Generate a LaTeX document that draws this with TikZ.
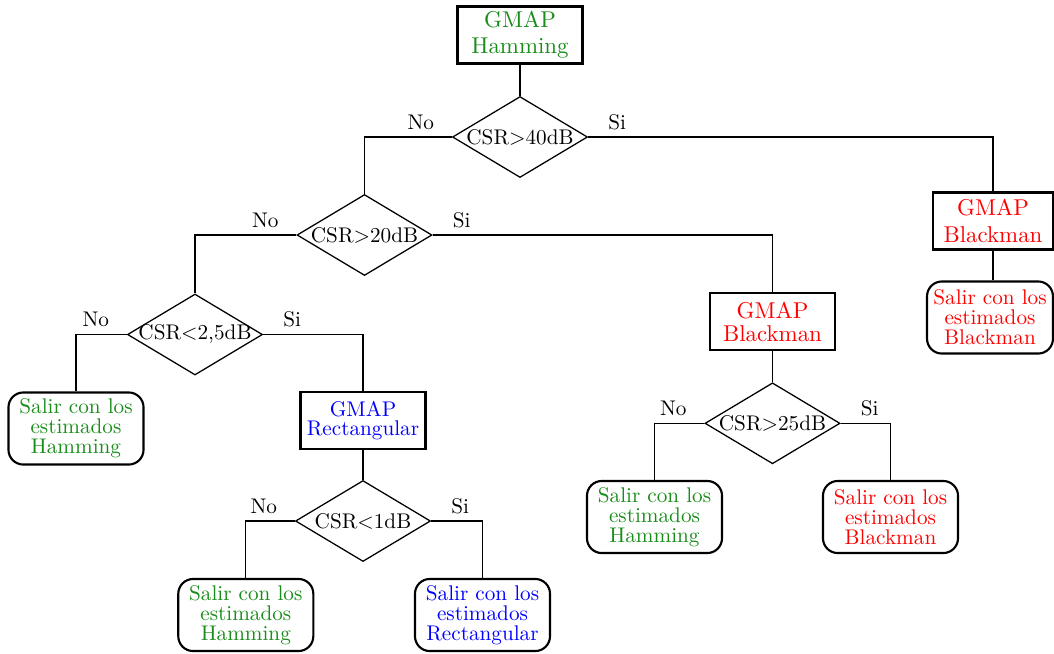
\documentclass[tikz,border=0pt]{standalone}
\usetikzlibrary{shapes.geometric}
\definecolor{hamgreen}{RGB}{25,140,25}
\tikzset{
  every node/.style={font=\fontsize{10}{12}\selectfont},
  gmapbox/.style={draw, line width=1pt, rectangle, minimum width=59pt,
    minimum height=26.9pt, inner sep=0pt, align=center,
    font=\fontsize{10.8}{9}\selectfont},
  exitbox/.style={draw, line width=1pt, rounded corners=7pt,
    minimum width=63.7pt, minimum height=34pt, inner sep=0pt, align=center,
    font=\fontsize{10}{9.4}\selectfont},
  test/.style={draw, diamond, line width=0.6pt, minimum width=63.7pt,
    minimum height=38.2pt, inner sep=0pt},
  link/.style={line width=0.5pt},
  answer/.style={inner sep=0pt}
}
\newcommand{\cond}[1]{\makebox[0pt]{#1}}
\begin{document}
\begin{tikzpicture}[x=0.4717pt,y=-0.4717pt]
\useasboundingbox (0,0) rectangle (1054,653);

% processing blocks
\node[gmapbox, text=hamgreen] (h0) at (520,35)   {GMAP\\[3.4pt]Hamming};
\node[gmapbox, text=red, minimum width=57pt] (b1) at (993,221) {GMAP\\[3.9pt]Blackman};
\node[gmapbox, text=red]      (b2) at (772.5,321.5) {GMAP\\[1.8pt]Blackman};
\node[gmapbox, text=blue, font=\fontsize{10}{9}\selectfont] (b3) at (363,420.3) {GMAP\\Rectangular};

% decisions
\node[test] (d1) at (520,137) {\cond{CSR$>$40dB}};
\node[test] (d2) at (364.5,235) {\cond{CSR$>$20dB}};
\node[test] (d3) at (195,334.5) {\cond{CSR$<$2,5dB}};
\node[test] (d4) at (363,521)   {\cond{CSR$<$1dB}};
\node[test] (d5) at (772.5,423.3) {\cond{CSR$>$25dB}};

% exits
\node[exitbox, text=red, minimum width=59.4pt] (t1) at (990,317.5) {Salir con los\\estimados\\Blackman};
\node[exitbox, text=hamgreen] (t3)  at (76,428.5)  {Salir con los\\estimados\\Hamming};
\node[exitbox, text=hamgreen] (t4a) at (245.8,615) {Salir con los\\estimados\\Hamming};
\node[exitbox, text=blue]     (t4b) at (482.5,615) {Salir con los\\estimados\\Rectangular};
\node[exitbox, text=hamgreen] (t5a) at (654.5,517) {Salir con los\\estimados\\Hamming};
\node[exitbox, text=red]      (t5b) at (890.5,517) {Salir con los\\estimados\\Blackman};

% connectors
\draw[link] (h0.south) -- (d1.north);
\draw[link] (d1.west) -| (d2.north);
\draw[link] (d1.east) -| (b1.north);
\draw[link] (b1.south) -- (t1.north -| b1.south);
\draw[link] (d2.west) -| (d3.north);
\draw[link] (d2.east) -| (b2.north);
\draw[link] (d3.west) -| (t3.north);
\draw[link] (d3.east) -| (b3.north);
\draw[link] (b3.south) -- (d4.north);
\draw[link] (d4.west) -| (t4a.north);
\draw[link] (d4.east) -| (t4b.north);
\draw[link] (b2.south) -- (d5.north);
\draw[link] (d5.west) -| (t5a.north);
\draw[link] (d5.east) -| (t5b.north);

% branch labels
\foreach \d in {d1,d2,d3,d4,d5}{
  \node[answer] (\d no) at ([shift={(-31,-15)}]\d.west) {No};
  \node[answer] (\d si) at ([shift={(29,-15)}]\d.east) {Si};
}
\end{tikzpicture}
\end{document}
